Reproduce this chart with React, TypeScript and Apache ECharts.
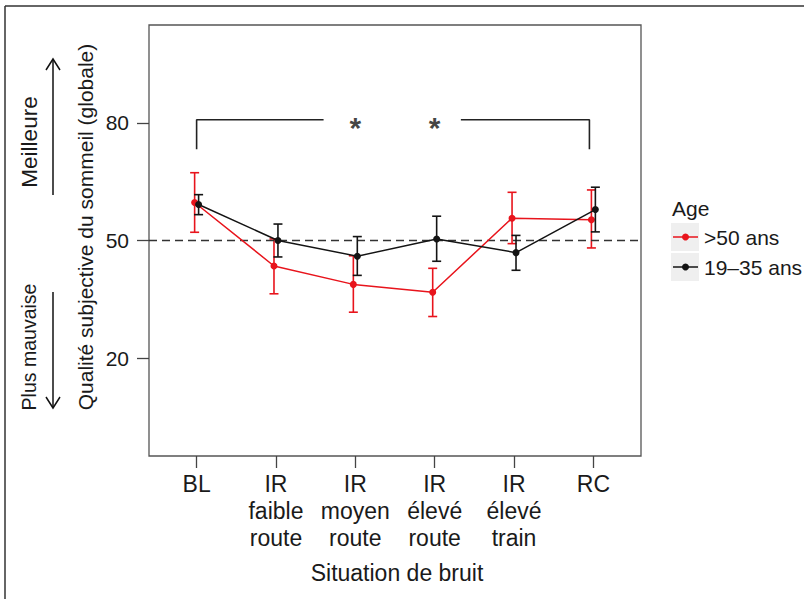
import React, { useEffect, useRef } from "react";
import * as echarts from "echarts";

const categories = ["BL", "IR\nfaible\nroute", "IR\nmoyen\nroute", "IR\nélevé\nroute", "IR\nélevé\ntrain", "RC"];
const olderMean = [59.7, 43.5, 38.8, 36.8, 55.7, 55.3];
const olderLow = [52.1, 36.4, 31.7, 30.6, 49.2, 48.1];
const olderHigh = [67.3, 50.4, 46.1, 42.9, 62.3, 62.9];
const youngMean = [59.2, 50.0, 46.0, 50.4, 46.9, 57.9];
const youngLow = [56.6, 45.8, 41.1, 44.7, 42.4, 52.2];
const youngHigh = [61.7, 54.2, 51.0, 56.2, 51.3, 63.6];
const yTicks = [20, 50, 80];
const referenceLevel = 50;
const bracketLevel = 80.8;
const bracketDrop = 73.3;
const bracketLeft = [1, 2.6];
const bracketRight = [4.33, 5.95];
const starPositions = [3, 4];
const legendTitle = "Age";
const legendLabels = [">50 ans", "19–35 ans"];

const RED = "#e8141c";
const BLACK = "#141414";
const FONT = "Liberation Sans";
const DODGE = 0.025;

function errorBarRender(color: string) {
  return (params: any, api: any) => {
    const x = api.value(0);
    const lo = api.coord([x, api.value(1)]);
    const hi = api.coord([x, api.value(2)]);
    const hw = 4.5;
    const style = { stroke: color, lineWidth: 1.6 };
    return {
      type: "group",
      children: [
        { type: "line", shape: { x1: lo[0], y1: lo[1], x2: hi[0], y2: hi[1] }, style },
        { type: "line", shape: { x1: lo[0] - hw, y1: lo[1], x2: lo[0] + hw, y2: lo[1] }, style },
        { type: "line", shape: { x1: hi[0] - hw, y1: hi[1], x2: hi[0] + hw, y2: hi[1] }, style },
      ],
    };
  };
}

export default function App() {
  const ref = useRef<HTMLDivElement>(null);
  useEffect(() => {
    if (!ref.current) return;
    const chart = echarts.init(ref.current, null, { renderer: "svg" });
    const xs = categories.map((_, i) => i + 1);
    const option: any = {
      animation: false,
      backgroundColor: "#ffffff",
      grid: { left: 149, top: 25, right: 163, bottom: 143, show: true, borderColor: "#555", borderWidth: 1.3, backgroundColor: "transparent" },
      xAxis: {
        type: "value",
        min: 0.4,
        max: 6.6,
        splitLine: { show: false },
        axisLine: { show: false, onZero: false },
        axisTick: { show: true, customValues: xs, length: 12, lineStyle: { color: "#444", width: 1.3 } },
        axisLabel: {
          customValues: xs,
          formatter: (v: number) => categories[Math.round(v) - 1] ?? "",
          fontFamily: FONT,
          fontSize: 23,
          lineHeight: 27,
          color: "#1a1a1a",
          margin: 14,
          verticalAlign: "top",
        },
      },
      yAxis: {
        type: "value",
        min: -5,
        max: 105,
        splitLine: { show: false },
        axisLine: { show: false, onZero: false },
        axisTick: { show: true, customValues: yTicks, length: 12, lineStyle: { color: "#444", width: 1.3 } },
        axisLabel: { customValues: yTicks, fontFamily: FONT, fontSize: 21, color: "#1a1a1a", margin: 20 },
      },
      series: [
        {
          type: "line",
          data: [[0.4, referenceLevel], [6.6, referenceLevel]],
          symbol: "none",
          silent: true,
          lineStyle: { color: "#333", width: 1.6, type: [8, 5] },
        },
        {
          type: "line",
          data: [[bracketLeft[0], bracketDrop], [bracketLeft[0], bracketLevel], [bracketLeft[1], bracketLevel]],
          symbol: "none",
          silent: true,
          lineStyle: { color: "#222", width: 1.6 },
        },
        {
          type: "line",
          data: [[bracketRight[0], bracketLevel], [bracketRight[1], bracketLevel], [bracketRight[1], bracketDrop]],
          symbol: "none",
          silent: true,
          lineStyle: { color: "#222", width: 1.6 },
        },
        {
          type: "scatter",
          data: starPositions.map((x) => [x, bracketLevel]),
          symbolSize: 1,
          itemStyle: { color: "transparent" },
          label: {
            show: true,
            position: "inside",
            formatter: "*",
            fontFamily: FONT,
            fontSize: 30,
            fontWeight: "bold",
            color: "#111",
            offset: [0, 8],
          },
        },
        {
          type: "custom",
          renderItem: errorBarRender(RED),
          data: xs.map((x, i) => [x - DODGE, olderLow[i], olderHigh[i]]),
          z: 3,
        },
        {
          type: "line",
          data: xs.map((x, i) => [x - DODGE, olderMean[i]]),
          symbol: "circle",
          symbolSize: 7,
          itemStyle: { color: RED },
          lineStyle: { color: RED, width: 1.5 },
          z: 4,
        },
        {
          type: "custom",
          renderItem: errorBarRender(BLACK),
          data: xs.map((x, i) => [x + DODGE, youngLow[i], youngHigh[i]]),
          z: 5,
        },
        {
          type: "line",
          data: xs.map((x, i) => [x + DODGE, youngMean[i]]),
          symbol: "circle",
          symbolSize: 7,
          itemStyle: { color: BLACK },
          lineStyle: { color: BLACK, width: 1.5 },
          z: 6,
        },
      ],
      graphic: [
        { type: "line", shape: { x1: 5, y1: 6, x2: 804, y2: 6 }, style: { stroke: "#333", lineWidth: 1.5 } },
        { type: "line", shape: { x1: 5, y1: 6, x2: 5, y2: 599 }, style: { stroke: "#333", lineWidth: 1.5 } },
        {
          type: "text",
          x: 85,
          y: 227,
          rotation: Math.PI / 2,
          style: { text: "Qualité subjective du sommeil (globale)", fontFamily: FONT, fontSize: 21, fill: "#1a1a1a", align: "center", verticalAlign: "middle" },
        },
        {
          type: "text",
          x: 29,
          y: 142,
          rotation: Math.PI / 2,
          style: { text: "Meilleure", fontFamily: FONT, fontSize: 22.5, fill: "#1a1a1a", align: "center", verticalAlign: "middle" },
        },
        {
          type: "text",
          x: 29,
          y: 347,
          rotation: Math.PI / 2,
          style: { text: "Plus mauvaise", fontFamily: FONT, fontSize: 19.5, fill: "#1a1a1a", align: "center", verticalAlign: "middle" },
        },
        { type: "line", shape: { x1: 53, y1: 59, x2: 53, y2: 195 }, style: { stroke: "#111", lineWidth: 1.5 } },
        { type: "polyline", shape: { points: [[46, 70], [53, 59], [60, 70]] }, style: { stroke: "#111", lineWidth: 1.5, fill: "none" } },
        { type: "line", shape: { x1: 53, y1: 292, x2: 53, y2: 408 }, style: { stroke: "#111", lineWidth: 1.5 } },
        { type: "polyline", shape: { points: [[46, 397], [53, 408], [60, 397]] }, style: { stroke: "#111", lineWidth: 1.5, fill: "none" } },
        {
          type: "text",
          x: 672,
          y: 208,
          style: { text: legendTitle, fontFamily: FONT, fontSize: 21, fill: "#1a1a1a", align: "left", verticalAlign: "middle" },
        },
        { type: "rect", shape: { x: 671, y: 223, width: 28, height: 28 }, style: { fill: "#efefef" } },
        { type: "rect", shape: { x: 671, y: 253, width: 28, height: 28 }, style: { fill: "#efefef" } },
        { type: "line", shape: { x1: 673, y1: 237, x2: 698, y2: 237 }, style: { stroke: RED, lineWidth: 1.5 } },
        { type: "circle", shape: { cx: 685.5, cy: 237, r: 3.5 }, style: { fill: RED } },
        { type: "line", shape: { x1: 673, y1: 267, x2: 698, y2: 267 }, style: { stroke: BLACK, lineWidth: 1.5 } },
        { type: "circle", shape: { cx: 685.5, cy: 267, r: 3.5 }, style: { fill: BLACK } },
        {
          type: "text",
          x: 704,
          y: 237,
          style: { text: legendLabels[0], fontFamily: FONT, fontSize: 21, fill: "#1a1a1a", align: "left", verticalAlign: "middle" },
        },
        {
          type: "text",
          x: 704,
          y: 267,
          style: { text: legendLabels[1], fontFamily: FONT, fontSize: 21, fill: "#1a1a1a", align: "left", verticalAlign: "middle" },
        },
        {
          type: "text",
          x: 397,
          y: 573,
          style: { text: "Situation de bruit", fontFamily: FONT, fontSize: 23, fill: "#1a1a1a", align: "center", verticalAlign: "middle" },
        },
      ],
    };
    chart.setOption(option);
    return () => chart.dispose();
  }, []);
  return <div ref={ref} style={{ position: "absolute", left: 0, top: 0, width: 804, height: 599 }} />;
}
